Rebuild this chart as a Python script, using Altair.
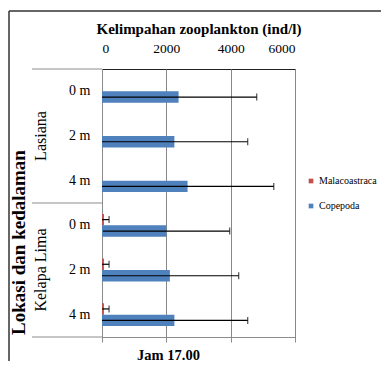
import altair as alt
import pandas as pd

# ---- data ----
locations = ["Lasiana", "Lasiana", "Lasiana", "Kelapa Lima", "Kelapa Lima", "Kelapa Lima"]
depths = ["0 m", "2 m", "4 m", "0 m", "2 m", "4 m"]
copepoda = [2380, 2250, 2660, 2000, 2110, 2250]
copepoda_err = [2430, 2280, 2680, 1970, 2140, 2280]
malaco = [0, 0, 0, 60, 60, 60]
malaco_err = [0, 0, 0, 160, 160, 160]
series = ["Malacoastraca", "Copepoda"]
colors = ["#C0504D", "#4F81BD"]
x_ticks = [0, 2000, 4000, 6000]
group_labels = ["Lasiana", "Kelapa Lima"]

rows = [f"{l}|{d}" for l, d in zip(locations, depths)]
recs = []
for i, r in enumerate(rows):
    recs.append(dict(row=r, series=series[0], value=malaco[i], err=malaco_err[i]))
    recs.append(dict(row=r, series=series[1], value=copepoda[i], err=copepoda_err[i]))
df = pd.DataFrame(recs)
df["lo"] = df["value"] - df["err"]
df["hi"] = df["value"] + df["err"]
err_df = df[df["err"] > 0]

group_df = pd.DataFrame({"row": [rows[1], rows[4]], "label": group_labels})
sep_df = pd.DataFrame({"row": [rows[0], rows[3]]})
end_df = pd.DataFrame({"row": [rows[5]]})
one = pd.DataFrame({"a": [0]})

FONT = "Liberation Serif"
yscale = alt.Scale(domain=rows, paddingInner=0, paddingOuter=0)
xscale = alt.Scale(domain=[0, 6000])
yoff = alt.YOffset("series:N", scale=alt.Scale(domain=series, paddingOuter=0.95, paddingInner=0))

bars = alt.Chart(df).mark_bar().encode(
    x=alt.X("value:Q", scale=xscale,
            axis=alt.Axis(orient="top", values=x_ticks, format="d",
                          title="Kelimpahan zooplankton (ind/l)",
                          titleFontSize=15, titleFontWeight="bold", titleColor="black",
                          labelFontSize=13.5, labelColor="black", tickSize=0, labelPadding=14,
                          titlePadding=5, grid=True, gridColor="#888888", domain=False,
                          labelFont=FONT, titleFont=FONT)),
    y=alt.Y("row:N", scale=yscale,
            axis=alt.Axis(title="Lokasi dan kedalaman", titleAngle=270, titleX=-84, titleY=173,
                          titleAlign="center", titleBaseline="middle", titleFontSize=19,
                          titleFontWeight="bold", titleColor="black",
                          labelExpr="split(datum.label, '|')[1]", labelFontSize=14,
                          labelColor="black", labelPadding=12, tickSize=0,
                          domainColor="#8c8c8c", labelFont=FONT, titleFont=FONT)),
    yOffset=yoff,
    color=alt.Color("series:N", scale=alt.Scale(domain=series, range=colors),
                    legend=alt.Legend(title=None, orient="none", legendX=204, legendY=107,
                                      symbolType="square", symbolSize=22, labelFontSize=10,
                                      labelColor="black", rowPadding=15, labelFont=FONT,
                                      labelOffset=3, symbolStrokeWidth=0)),
)

err_rule = alt.Chart(err_df).mark_rule(color="black", strokeWidth=1.2, clip=True).encode(
    x=alt.X("lo:Q", scale=xscale,
            axis=alt.Axis(orient="bottom", values=x_ticks, labels=False, tickSize=5,
                          tickColor="#8c8c8c", domainColor="#8c8c8c", grid=False,
                          title="Jam 17.00", titleX=66, titleY=18, titleBaseline="middle",
                          titleFontSize=14.5, titleFontWeight="bold", titleColor="black",
                          titleFont=FONT)),
    x2="hi:Q",
    y=alt.Y("row:N", scale=yscale, axis=None),
    yOffset=yoff,
)

cap_hi = alt.Chart(err_df).mark_tick(color="black", thickness=1.2, size=7, clip=True).encode(
    x=alt.X("hi:Q", scale=xscale, axis=None),
    y=alt.Y("row:N", scale=yscale, axis=None),
    yOffset=yoff,
)

groups = alt.Chart(group_df).mark_text(angle=270, fontSize=16, font=FONT, color="black",
                                        align="center", baseline="middle").encode(
    x=alt.value(-61),
    y=alt.Y("row:N", scale=yscale, axis=None),
    text="label:N",
)

seps = alt.Chart(sep_df).mark_rule(color="#8c8c8c", strokeWidth=1).encode(
    x=alt.value(-70), x2=alt.value(0),
    y=alt.Y("row:N", scale=yscale, axis=None, bandPosition=0),
)
end_sep = alt.Chart(end_df).mark_rule(color="#8c8c8c", strokeWidth=1).encode(
    x=alt.value(-70), x2=alt.value(0),
    y=alt.Y("row:N", scale=yscale, axis=None, bandPosition=1),
)

frame_top = alt.Chart(one).mark_rule(color="#333", strokeWidth=1.5).encode(
    x=alt.value(-93), x2=alt.value(300), y=alt.value(-58))
frame_left = alt.Chart(one).mark_rule(color="#333", strokeWidth=1.5).encode(
    x=alt.value(-93), y=alt.value(-58), y2=alt.value(300))

chart = alt.layer(bars, err_rule, cap_hi, groups, seps, end_sep, frame_top, frame_left).resolve_axis(
    x="independent", y="independent"
).properties(
    width=193, height=268,
    padding={"left": 94, "top": 61, "right": 86, "bottom": 24},
    autosize=alt.AutoSizeParams(type="none"),
).configure(
    font=FONT
).configure_axis(
    labelFont=FONT, titleFont=FONT
).configure_legend(
    labelFont=FONT
).configure_view(
    stroke="#222", strokeWidth=1
)

chart.save("out.html", embed_options={"renderer": "svg", "actions": False})
